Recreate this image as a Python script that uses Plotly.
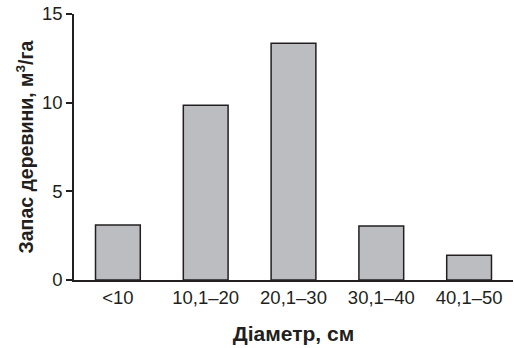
import plotly.graph_objects as go

categories = ["<10", "10,1\u201320", "20,1\u201330", "30,1\u201340", "40,1\u201350"]
values = [3.1, 9.85, 13.35, 3.05, 1.4]
y_ticks = [0, 5, 10, 15]

fig = go.Figure(go.Bar(
    x=categories, y=values,
    marker=dict(color="#bcbdc1", line=dict(color="#231f20", width=1.5)),
    width=0.51,
))

font = "Liberation Sans, Arial, Helvetica, sans-serif"
fig.update_layout(
    width=514, height=348,
    margin=dict(l=74, r=1, t=14, b=68, autoexpand=False),
    paper_bgcolor="white", plot_bgcolor="white",
    showlegend=False,
    font=dict(family=font, size=18, color="#231f20"),
    xaxis=dict(
        range=[-0.5, 4.5], showline=True, linecolor="#231f20", linewidth=1.5,
        ticks="", tickfont=dict(size=18.5), showgrid=False, automargin=False,
        ticklabeloverflow="allow",
        title=dict(text="<b>Діаметр, см</b>", font=dict(size=21), standoff=19),
    ),
    yaxis=dict(
        range=[0, 15], tickvals=y_ticks, showline=True, linecolor="#231f20", linewidth=1.5,
        ticks="outside", ticklen=6, tickwidth=1.5, tickcolor="#231f20",
        tickfont=dict(size=18.5), showgrid=False, zeroline=False, automargin=False,
        ticklabeloverflow="allow",
        title=dict(text="<b>Запас деревини, м<sup>3</sup>/га</b>", font=dict(size=19.5), standoff=3),
    ),
)

fig.write_html("out.html", config={"displayModeBar": False},
               post_script="document.body.style.margin='0';")
